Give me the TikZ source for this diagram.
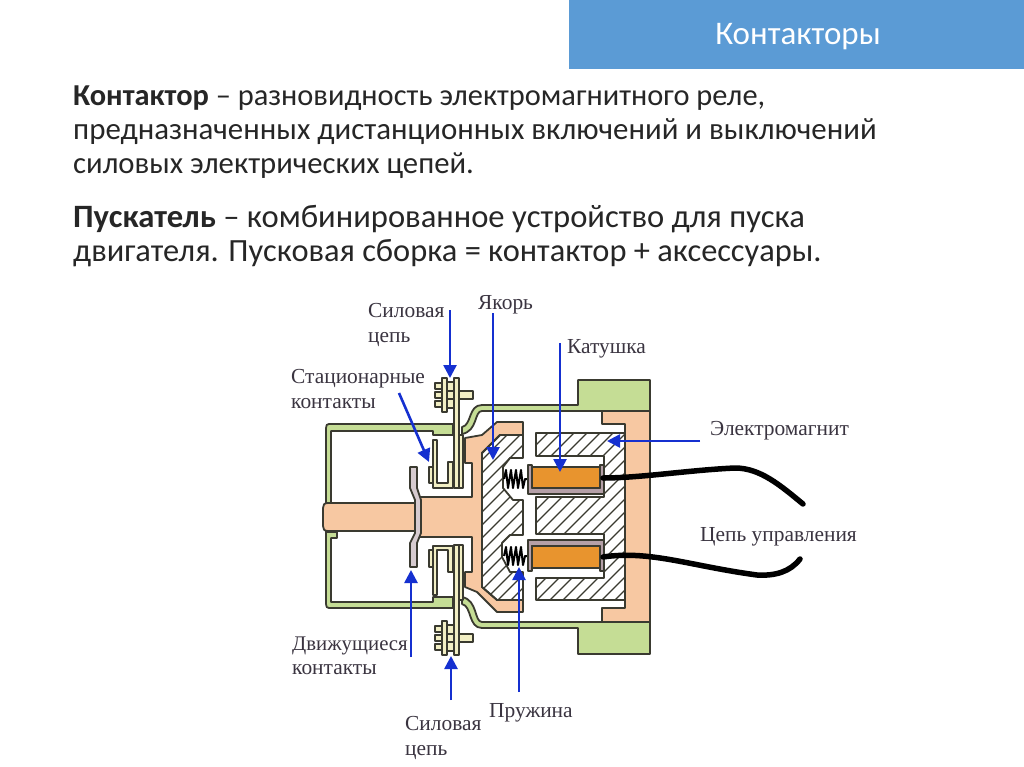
\documentclass[tikz,border=0pt]{standalone}
\usepackage{fontspec}
\setmainfont{Carlito}
\newfontfamily\lblfont{Liberation Serif}
\usetikzlibrary{arrows.meta}
\definecolor{barblue}{HTML}{5B9BD5}
\definecolor{ink}{HTML}{262626}
\definecolor{lblink}{HTML}{3A3440}
\definecolor{outl}{HTML}{3A3A30}
\definecolor{peach}{HTML}{F7C8A2}
\definecolor{coil}{HTML}{E8942E}
\definecolor{gr}{HTML}{C5DD95}
\definecolor{pale}{HTML}{F2EFC4}
\definecolor{bob}{HTML}{B5A0A8}
\definecolor{arrowb}{HTML}{1530D0}
\tikzset{
  x=1pt,y=-1pt,
  bodytext/.style={anchor=base west,inner sep=0pt,text=ink},
  lbl/.style={anchor=base west,inner sep=0pt,font=\lblfont\fontsize{21.4}{24}\selectfont,text=lblink},
  part/.style={draw=outl,line width=1.8pt,line join=round},
  ptr/.style={draw=arrowb,line width=2.6pt,-{Triangle[length=13pt,width=13pt]}},
  wire/.style={draw=black,line width=5.5pt,line cap=round},
  hatchline/.style={draw=outl,line width=1.25pt},
}
\newcommand{\hatchfill}[1]{%
  \begin{scope}\clip #1;
    \foreach \k in {0,13,...,520}{\draw[hatchline] (280+\k,610) -- (280+\k+190,420);}
  \end{scope}
  \draw[part] #1;}
\newcommand{\boltat}[1]{%
  \begin{scope}[shift={(0,#1)}]
    \draw[part,fill=pale] (459,-4) rectangle (473,4);
    \draw[part,fill=pale] (435,-12) rectangle (442,-6);
    \draw[part,fill=pale] (435,6) rectangle (442,12);
    \draw[part,fill=pale] (435,-3) rectangle (442,3);
    \draw[part,fill=pale] (447,-13) rectangle (454,13);
    \draw[part] (447,-4) -- (454,-4) (447,4) -- (454,4);
    \draw[part,fill=pale] (442,-17) rectangle (447,17);
  \end{scope}}
\begin{document}
\begin{tikzpicture}
\useasboundingbox (0,0) rectangle (1024,767);
\fill[white] (0,0) rectangle (1024,767);
\node[fill=barblue,minimum width=455pt,minimum height=69pt,anchor=north west,inner sep=0pt] (bar) at (569,0) {};
\node[anchor=center,inner sep=0pt,text=white,font=\fontsize{33}{36}\selectfont] (title) at (798,37) {Контакторы};
\node[bodytext,font=\fontsize{30.4}{34}\selectfont] (t1) at (73,106) {\textbf{Контактор} – разновидность электромагнитного реле,};
\node[bodytext,font=\fontsize{30.9}{34}\selectfont] (t2) at (73,140) {предназначенных дистанционных включений и выключений};
\node[bodytext,font=\fontsize{30.7}{34}\selectfont] (t3) at (73,174) {силовых электрических цепей.};
\node[bodytext,font=\fontsize{32.6}{34}\selectfont] (t4) at (73,227) {\textbf{Пускатель} – комбинированное устройство для пуска};
\node[bodytext,font=\fontsize{32.4}{34}\selectfont] (t5) at (73,261) {двигателя. Пусковая сборка = контактор + аксессуары.};

% green frame upper
\draw[part,fill=gr] (462,427) .. controls (472,425) and (468,405) .. (482,405) -- (578,405) -- (578,380) -- (650,380) -- (650,411) -- (482,411) .. controls (474,411) and (478,431) .. (462,434) -- cycle;
\draw[part,fill=gr] (337,531) -- (337,537) -- (326,537) -- (326,428) .. controls (326,425) and (327,424) .. (329,424) -- (453,424) -- (453,435) -- (433,435) -- (433,431) -- (331,431) -- (331,530) -- cycle;
% green frame lower
\draw[part,fill=gr] (462,604) .. controls (472,606) and (468,628) .. (482,628) -- (578,628) -- (578,654) -- (650,654) -- (650,622) -- (482,622) .. controls (474,622) and (478,600) .. (462,597) -- cycle;
\draw[part,fill=gr] (337,532) -- (337,538) -- (331,538) -- (331,602) -- (433,602) -- (433,597) -- (453,597) -- (453,608) -- (329,608) .. controls (327,608) and (326,607) .. (326,604) -- (326,532) -- cycle;

% orange right yoke
\draw[part,fill=peach] (602,411) -- (650,411) -- (650,622) -- (602,622) -- (602,608) -- (625,608) -- (625,424) -- (602,424) -- cycle;

% orange armature carrier
\draw[part,fill=peach] (465,438) -- (482,435) -- (497,422) -- (523,422) -- (523,435) -- (500,435) -- (482,453) -- (482,587) -- (497,600) -- (523,600) -- (523,612) -- (497,612) -- (477,592) -- (465,587) -- (465,572) -- (472,572) -- (472,537) -- (420,537) -- (420,497) -- (472,497) -- (472,463) -- (465,463) -- cycle;

% rod
\draw[part,fill=peach] (415,503) -- (328,503) .. controls (324,503) and (323,505) .. (323,508) -- (323,526) .. controls (323,529) and (324,531) .. (328,531) -- (415,531);

% moving armature hatched
\hatchfill{(482,453) -- (500,435) -- (523,435) -- (523,458) -- (510,458) -- (503,467) -- (503,488) -- (513,500) -- (523,500) -- (523,535) -- (510,535) -- (502,543) -- (502,557) -- (510,572) -- (523,572) -- (523,600) -- (497,600) -- (482,587) -- cycle}

% stationary E core
\hatchfill{(536,433) -- (625,433) -- (625,600) -- (536,600) -- (536,578) -- (604,578) -- (604,534) -- (536,534) -- (536,497) -- (604,497) -- (604,456) -- (536,456) -- cycle}

% springs
\draw[black,line width=2pt,line join=round] (504,479) -- (506,470) -- (508,488) -- (511,470) -- (513,488) -- (516,470) -- (518,488) -- (521,470) -- (523,488) -- (525,479) -- (528,479);
\draw[black,line width=2pt,line join=round] (504,556) -- (506,547) -- (508,565) -- (511,547) -- (513,565) -- (516,547) -- (518,565) -- (521,547) -- (523,565) -- (525,556) -- (528,556);

% coils
\draw[part,fill=bob] (528,465) -- (532,465) -- (532,488) -- (600,488) -- (600,465) -- (604,465) -- (604,494) -- (528,494) -- cycle;
\draw[part,fill=coil] (532,467) rectangle (600,488);
\draw[part,fill=bob] (528,571) -- (532,571) -- (532,546) -- (600,546) -- (600,571) -- (604,571) -- (604,540) -- (528,540) -- cycle;
\draw[part,fill=coil] (532,546) rectangle (600,568);

% moving contacts
\draw[part,fill=bob!55!white] (410,467) -- (417,467) -- (417,488) -- (421,500) -- (421,533) -- (417,543) -- (417,567) -- (410,567) -- (410,543) -- (415,533) -- (415,500) -- (410,488) -- cycle;
% stationary contacts upper
\draw[part,fill=pale] (429,467) rectangle (433,483);
\draw[part,fill=pale] (433,440) -- (437,440) -- (437,483) -- (448,483) -- (448,462) -- (453,462) -- (453,488) -- (433,488) -- cycle;
\draw[part,fill=pale] (454,378) rectangle (459,488);
\draw[part,fill=pale] (459,435) rectangle (463,488);
% stationary contacts lower
\draw[part,fill=pale] (429,550) rectangle (433,567);
\draw[part,fill=pale] (433,595) -- (437,595) -- (437,550) -- (448,550) -- (448,572) -- (453,572) -- (453,546) -- (433,546) -- cycle;
\draw[part,fill=pale] (454,545) rectangle (459,655);
\draw[part,fill=pale] (459,545) rectangle (463,600);
\boltat{395}
\boltat{638}

% wires
\draw[wire] (603,478) .. controls (640,478) and (690,470) .. (735,468) .. controls (760,468) and (780,485) .. (803,504);
\draw[wire] (603,557) .. controls (650,550) and (690,566) .. (757,575) .. controls (775,576) and (790,572) .. (800,559);

% labels
\node[lbl] (l1) at (368,317) {Силовая};
\node[lbl] (l2) at (368,342) {цепь};
\node[lbl] (l3) at (478,309) {Якорь};
\node[lbl] (l4) at (567,353) {Катушка};
\node[lbl] (l5) at (291,383) {Стационарные};
\node[lbl] (l6) at (291,408) {контакты};
\node[lbl] (l7) at (710,435) {Электромагнит};
\node[lbl] (l8) at (700,541) {Цепь управления};
\node[lbl,font=\lblfont\fontsize{20.8}{24}\selectfont] (l9) at (292,650) {Движущиеся};
\node[lbl] (l10) at (292,674) {контакты};
\node[lbl] (l11) at (405,730) {Силовая};
\node[lbl] (l12) at (405,755) {цепь};
\node[lbl] (l13) at (489,717) {Пружина};

% arrows
\coordinate (a1s) at (450,310); \coordinate (a1e) at (450,378);
\coordinate (a2s) at (493,313); \coordinate (a2e) at (493,460);
\coordinate (a3s) at (560,343); \coordinate (a3e) at (560,472);
\coordinate (a4s) at (700,441); \coordinate (a4e) at (607,441);
\coordinate (a5s) at (399,393); \coordinate (a5e) at (429,462);
\coordinate (a6s) at (411,657); \coordinate (a6e) at (411,570);
\coordinate (a7s) at (451,700); \coordinate (a7e) at (451,656);
\coordinate (a8s) at (519,692); \coordinate (a8e) at (519,567);
\foreach \n in {1,...,8}{\draw[ptr] (a\n s) -- (a\n e);}
\end{tikzpicture}
\end{document}
